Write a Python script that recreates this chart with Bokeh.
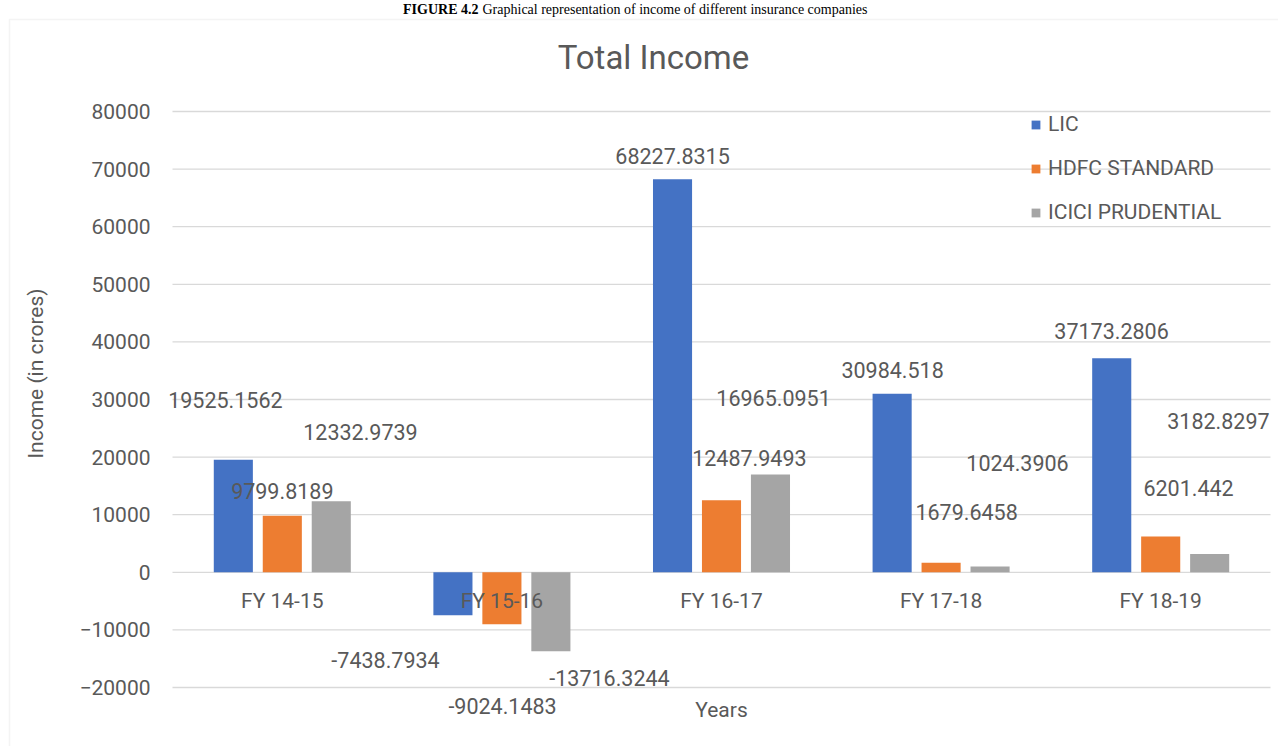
from bokeh.plotting import figure
from bokeh.models import (Label, LabelSet, ColumnDataSource, FixedTicker,
                          Range1d, Legend, LegendItem, BoxAnnotation)
from bokeh.core.properties import value
from bokeh.embed import file_html
from bokeh.resources import INLINE

# ---------------- data ----------------
years = ["FY 14-15", "FY 15-16", "FY 16-17", "FY 17-18", "FY 18-19"]
series = ["LIC", "HDFC STANDARD", "ICICI PRUDENTIAL"]
lic = [19525.1562, -7438.7934, 68227.8315, 30984.518, 37173.2806]
hdfc = [9799.8189, -9024.1483, 12487.9493, 1679.6458, 6201.442]
icici = [12332.9739, -13716.3244, 16965.0951, 1024.3906, 3182.8297]
y_ticks = [-20000, -10000, 0, 10000, 20000, 30000, 40000, 50000, 60000, 70000, 80000]

# data-label positions (x in category units, y in data units), as placed in the original
lic_lx = [-0.259, 0.470, 1.777, 2.779, 3.776]
lic_ly = [30000, -15312, 72361, 35208, 41979]
hdfc_lx = [0.0, 1.003, 2.127, 3.116, 4.127]
hdfc_ly = [14028, -23125, 19930, 10382, 14549]
icici_lx = [0.356, 1.490, 2.237, 3.348, 4.263]
icici_ly = [24271, -18264, 30347, 19062, 26354]

# ---------------- layout constants ----------------
W, H = 1278, 746
PAGE_X0, PAGE_Y0 = 0, 0           # picture position of the canvas
PLOT_LEFT_PX = 172                # picture x of the plot area's left edge
CAT_PX = 219.6                    # pixels per category
ZERO_PX = 571.8                   # picture y of value 0
PX_PER_UNIT = 576 / 100000.0


def px_to_x(px):
    return -0.5 + (px - PLOT_LEFT_PX) / CAT_PX


def px_to_y(py):
    return (ZERO_PX - py) / PX_PER_UNIT


colors = ["#4472C4", "#ED7D31", "#A5A5A5"]
offsets = [-0.223, 0.0, 0.223]
bar_w = 0.178
TXT = "#595959"
GRID = "#D9D9D9"
FONT = "Roboto"

p = figure(width=W, height=H,
           x_range=Range1d(px_to_x(PAGE_X0), px_to_x(PAGE_X0 + W)),
           y_range=Range1d(px_to_y(PAGE_Y0 + H), px_to_y(PAGE_Y0)),
           output_backend="svg", toolbar_location=None, min_border=0)
p.outline_line_color = None
p.xgrid.visible = False
p.ygrid.visible = False

# gridlines over the plot area only
p.segment(x0=-0.5, x1=len(years) - 0.5, y0=y_ticks, y1=y_ticks,
          line_color=GRID, line_width=1.3)

# bars + data labels
legend_items = []
all_vals = [lic, hdfc, icici]
all_lx = [lic_lx, hdfc_lx, icici_lx]
all_ly = [lic_ly, hdfc_ly, icici_ly]
for name, vals, col, off, lx, ly in zip(series, all_vals, colors, offsets, all_lx, all_ly):
    src = ColumnDataSource(dict(x=[i + off for i in range(len(years))], top=vals))
    r = p.vbar(x="x", top="top", bottom=0, width=bar_w, source=src,
               fill_color=col, line_color=None)
    legend_items.append(LegendItem(label=name, renderers=[r]))
    lsrc = ColumnDataSource(dict(x=lx, y=ly, t=[str(v) for v in vals]))
    p.add_layout(LabelSet(x="x", y="y", text="t", source=lsrc,
                          text_font=value(FONT), text_font_size=value("21.5px"),
                          text_color=TXT, text_align="center", text_baseline="middle"))

# y axis (inside the canvas at the plot-area's left edge)
ya = p.yaxis[0]
ya.fixed_location = -0.5
ya.ticker = FixedTicker(ticks=y_ticks)
ya.axis_line_color = None
ya.major_tick_line_color = None
ya.minor_tick_line_color = None
ya.major_tick_out = 0
ya.major_tick_in = 0
ya.major_label_standoff = 22
ya.major_label_text_font = FONT
ya.major_label_text_font_size = "21px"
ya.major_label_text_color = TXT
ya.axis_label = "Income (in crores)"
ya.axis_label_text_font = FONT
ya.axis_label_text_font_size = "21px"
ya.axis_label_text_font_style = "normal"
ya.axis_label_text_color = TXT
ya.axis_label_standoff = 28

# x axis at zero
xa = p.xaxis[0]
xa.fixed_location = 0
xa.ticker = FixedTicker(ticks=list(range(len(years))))
xa.major_label_overrides = {i: y for i, y in enumerate(years)}
xa.axis_line_color = None
xa.major_tick_line_color = None
xa.minor_tick_line_color = None
xa.major_tick_out = 0
xa.major_tick_in = 0
xa.major_label_standoff = 17
xa.major_label_text_font = FONT
xa.major_label_text_font_size = "21px"
xa.major_label_text_color = TXT

# chart border
p.add_layout(BoxAnnotation(left=px_to_x(9), top=px_to_y(19),
                           right=px_to_x(1400), bottom=px_to_y(900),
                           fill_alpha=0, line_color=GRID, line_width=1.5))

# caption above the chart
p.add_layout(Label(x=px_to_x(478), y=px_to_y(1), text="FIGURE 4.2",
                   text_font="Liberation Serif", text_font_size="14px",
                   text_font_style="bold", text_color="#000000",
                   text_align="right", text_baseline="top"))
p.add_layout(Label(x=px_to_x(482), y=px_to_y(1),
                   text="Graphical representation of income of different insurance companies",
                   text_font="Liberation Serif", text_font_size="14px",
                   text_color="#000000", text_align="left", text_baseline="top"))

# chart title
p.add_layout(Label(x=px_to_x(653), y=px_to_y(57), text="Total Income",
                   text_font=FONT, text_font_size="33px", text_color=TXT,
                   text_align="center", text_baseline="middle"))

# x axis title
p.add_layout(Label(x=(len(years) - 1) / 2, y=px_to_y(709), text="Years",
                   text_font=FONT, text_font_size="21px", text_color=TXT,
                   text_align="center", text_baseline="middle"))

# legend
leg = Legend(items=legend_items, location=(1030, 522), orientation="vertical",
             glyph_width=11, glyph_height=11, label_standoff=7, spacing=20,
             padding=0, margin=0, border_line_color=None,
             background_fill_alpha=0,
             label_text_font=FONT, label_text_font_size="21px",
             label_text_color=TXT)
p.add_layout(leg, "center")

open("out.html", "w").write(file_html(p, INLINE))
